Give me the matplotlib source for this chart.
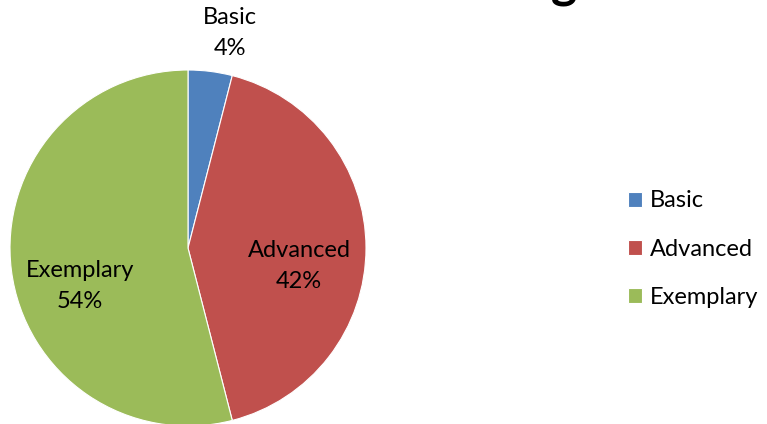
import matplotlib
matplotlib.use('Agg')
import matplotlib.pyplot as plt

# Dữ liệu biểu đồ
categories = ['Basic', 'Advanced', 'Exemplary']
percentages = [4, 42, 54]
colors = ['#4F81BD', '#C0504D', '#9BBB59']
title_text = 'Rating'

plt.rcParams['font.family'] = ['Lato', 'DejaVu Sans']

W, H = 767, 424
fig = plt.figure(figsize=(W / 100, H / 100), dpi=100)

# Vị trí hình tròn theo pixel
cx, cy, r = 188, 248, 178
ax = fig.add_axes([(cx - r) / W, (H - cy - r) / H, 2 * r / W, 2 * r / H])
wedges, _ = ax.pie(percentages, colors=colors, startangle=90, counterclock=False,
                   radius=1, wedgeprops=dict(edgecolor='white', linewidth=0.8))
ax.set_xlim(-1, 1)
ax.set_ylim(-1, 1)
ax.set_aspect('equal')
ax.axis('off')

# Nhãn dữ liệu
label_pos = [(0.236, 1.208), (0.624, -0.101), (-0.607, -0.213)]
for name, pct, (x, y) in zip(categories, percentages, label_pos):
    ax.text(x, y, f'{name}\n{pct}%', ha='center', va='center', fontsize=17,
            linespacing=1.6, color='black', clip_on=False)

# Chú thích
fig.legend(wedges, categories, loc='center left', bbox_to_anchor=(607 / W, 1 - 249 / H),
           frameon=False, fontsize=17, handlelength=0.6, handleheight=0.6,
           handletextpad=0.3, labelspacing=1.15)

# Tiêu đề bị cắt ở trên cùng
fig.text(577 / W, 1 + 3 / H, title_text, ha='right', va='baseline',
         fontsize=36, fontweight='bold')

fig.savefig('out.png', dpi=100)
